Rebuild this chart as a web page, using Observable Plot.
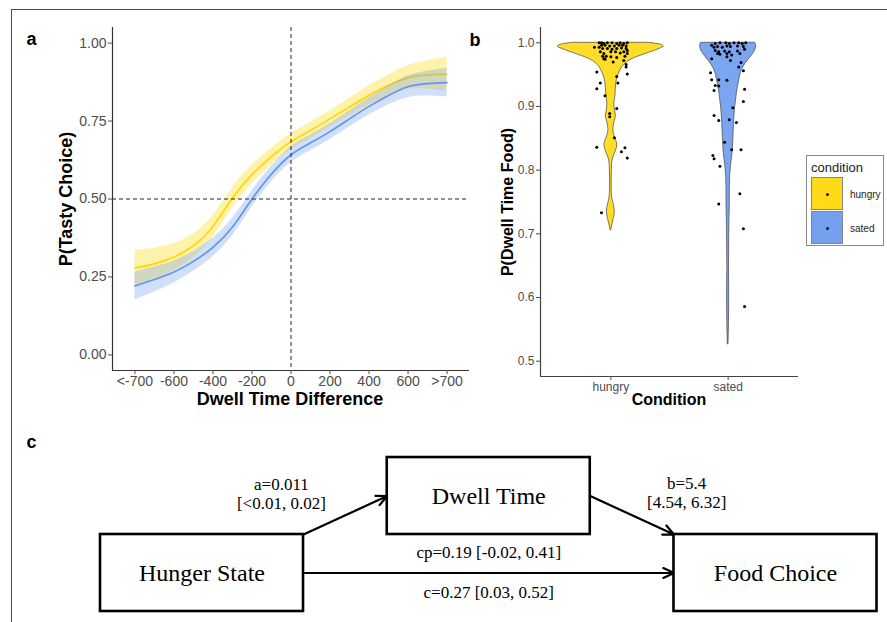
<!DOCTYPE html>
<html><head><meta charset="utf-8">
<script src="https://cdn.jsdelivr.net/npm/d3@7"></script>
<script src="https://cdn.jsdelivr.net/npm/@observablehq/plot@0.6"></script>
<style>
body{margin:0;background:#fff;}
#fig{position:relative;width:887px;height:622px;overflow:hidden;background:#fff;font-family:"Liberation Sans",Arial,sans-serif;}
.frame{position:absolute;left:11px;top:9px;width:900px;height:700px;border-top:1.5px solid #4a4a4a;border-left:1.5px solid #4a4a4a;}
.t{position:absolute;white-space:nowrap;line-height:1;transform:translate(-50%,-50%);font-weight:bold;color:#000;}
.panel{position:absolute;}
.legend{position:absolute;left:806px;top:155px;width:78px;height:91px;border:1px solid #8a8a8a;box-sizing:border-box;background:#fff;}
.legend .ttl{position:absolute;left:4px;top:4px;font-size:13px;color:#222;}
.legend .key{position:absolute;left:4px;width:32px;height:33px;box-sizing:border-box;border:1px solid #777;}
.legend .key i{position:absolute;left:14px;top:14.5px;width:3px;height:3px;border-radius:50%;background:#000;}
.legend .lab{position:absolute;left:43px;font-size:10px;color:#222;}
</style></head>
<body><div id="fig"><div class="frame"></div></div>
<script>
// ---------- DATA ----------
const conditions = ["hungry", "sated"];
const condColors = ["#FFD700", "#6495ED"];

// Panel a: smoothed P(tasty choice) by dwell-time difference
const dwell = [-800,-700,-600,-500,-400,-300,-200,-100,0,100,200,300,400,500,600,700,800];
const dwellTicks = [-800,-600,-400,-200,0,200,400,600,800];
const dwellTickLabels = ["<-700","-600","-400","-200","0","200","400","600",">700"];
const probTicks = [0, 0.25, 0.5, 0.75, 1];
const hungryMean = [0.279,0.292,0.314,0.350,0.412,0.503,0.578,0.636,0.684,0.720,0.757,0.795,0.833,0.865,0.889,0.898,0.900];
const hungryLo   = [0.222,0.242,0.271,0.312,0.377,0.470,0.548,0.609,0.659,0.695,0.731,0.767,0.803,0.832,0.851,0.853,0.845];
const hungryHi   = [0.336,0.342,0.357,0.388,0.447,0.536,0.608,0.663,0.709,0.745,0.783,0.823,0.863,0.898,0.927,0.943,0.955];
const satedMean  = [0.221,0.242,0.266,0.300,0.345,0.410,0.500,0.580,0.642,0.680,0.716,0.757,0.797,0.832,0.860,0.870,0.873];
const satedLo    = [0.176,0.202,0.231,0.268,0.315,0.382,0.474,0.555,0.617,0.655,0.691,0.731,0.769,0.802,0.825,0.830,0.827];
const satedHi    = [0.266,0.282,0.301,0.332,0.375,0.438,0.526,0.605,0.667,0.705,0.741,0.783,0.825,0.862,0.895,0.910,0.919];

// Panel b: violin half-widths (category units) along P(dwell time food)
const hungryViolinP = [0.706,0.715,0.725,0.735,0.745,0.755,0.770,0.790,0.810,0.820,0.830,0.840,0.850,0.863,0.875,0.885,0.895,0.905,0.915,0.930,0.945,0.955,0.965,0.975,0.983,0.990,0.994,0.997,1.000];
const hungryViolinW = [0.003,0.013,0.026,0.034,0.026,0.013,0.007,0.007,0.010,0.021,0.043,0.055,0.038,0.021,0.030,0.043,0.034,0.030,0.038,0.043,0.055,0.077,0.111,0.188,0.307,0.409,0.452,0.426,0.324];
const satedViolinP  = [0.527,0.560,0.590,0.610,0.650,0.690,0.721,0.745,0.773,0.805,0.826,0.852,0.878,0.899,0.920,0.941,0.957,0.968,0.978,0.988,0.995,1.000];
const satedViolinW  = [0.003,0.007,0.009,0.009,0.007,0.009,0.011,0.014,0.014,0.023,0.037,0.045,0.051,0.060,0.074,0.094,0.117,0.151,0.194,0.230,0.239,0.230];
const pTicks = [0.5,0.6,0.7,0.8,0.9,1.0];

// Panel b: per-participant points (jitter offset, P)
const hungryJitter = [-0.10,-0.08,-0.06,-0.03,0.01,0.05,0.08,0.11,0.14,-0.08,-0.05,-0.01,0.03,0.07,0.10,0.13,-0.14,-0.10,-0.07,-0.03,0.01,0.05,0.09,0.13,0.14,-0.09,-0.06,0.00,0.04,0.08,0.11,0.14,-0.07,-0.04,-0.06,0.00,0.05,0.12,-0.05,0.02,0.11,0.13,0.13,-0.12,-0.09,-0.12,-0.05,0.05,0.06,0.14,0.05,-0.01,-0.01,0.03,-0.12,0.12,0.09,0.14,-0.08];
const hungryP      = [1.000,1.000,0.999,1.000,1.000,0.999,1.000,0.999,1.000,0.996,0.996,0.995,0.995,0.996,0.996,0.995,0.993,0.993,0.991,0.991,0.990,0.991,0.992,0.991,0.988,0.986,0.983,0.986,0.986,0.984,0.986,0.983,0.979,0.979,0.975,0.978,0.977,0.979,0.974,0.970,0.972,0.966,0.962,0.954,0.937,0.928,0.917,0.947,0.937,0.951,0.897,0.889,0.884,0.851,0.836,0.835,0.829,0.819,0.733];
const satedJitter  = [-0.14,-0.11,-0.07,-0.02,0.01,0.05,0.09,0.12,0.15,-0.12,-0.09,-0.05,-0.01,0.02,0.08,0.13,-0.11,-0.08,-0.03,0.01,0.08,0.14,-0.09,-0.07,-0.01,0.03,0.10,-0.14,-0.01,0.02,0.11,0.09,0.13,-0.15,-0.08,-0.01,-0.14,-0.11,-0.08,-0.12,0.14,0.13,0.04,-0.12,-0.08,0.01,0.07,-0.03,0.03,0.11,-0.13,-0.12,-0.07,0.10,-0.08,0.13,0.14];
const satedP       = [0.996,0.999,1.000,1.000,0.999,1.000,1.000,0.999,1.000,0.993,0.994,0.993,0.995,0.994,0.995,0.994,0.988,0.986,0.987,0.986,0.987,0.990,0.983,0.982,0.983,0.981,0.983,0.975,0.978,0.972,0.969,0.962,0.956,0.953,0.942,0.941,0.942,0.933,0.932,0.925,0.927,0.908,0.898,0.886,0.878,0.879,0.875,0.844,0.832,0.832,0.823,0.818,0.806,0.763,0.747,0.708,0.586];

// Panel c: mediation model
const nodeNames = ["Hunger State", "Dwell Time", "Food Choice"];
const pathFrom  = ["Hunger State", "Dwell Time", "Hunger State"];
const pathTo    = ["Dwell Time", "Food Choice", "Food Choice"];
const pathCoef  = ["a=0.011", "b=5.4", "cp=0.19"];
const pathCI    = ["[<0.01, 0.02]", "[4.54, 6.32]", "[-0.02, 0.41]"];
const totalCoef = "c=0.27";
const totalCI   = "[0.03, 0.52]";

// ---------- HELPERS ----------
const fig = document.getElementById("fig");
function addPanel(svg, left, top) { const d = document.createElement("div"); d.className = "panel"; d.style.left = left + "px"; d.style.top = top + "px"; d.appendChild(svg); fig.appendChild(d); }
function addText(text, cx, cy, size, rotate) {
  const d = document.createElement("div"); d.className = "t"; d.textContent = text;
  d.style.left = cx + "px"; d.style.top = cy + "px"; d.style.fontSize = size + "px";
  if (rotate) d.style.transform = "translate(-50%,-50%) rotate(-90deg)";
  fig.appendChild(d);
}
const sans = "'Liberation Sans', Arial, Helvetica, sans-serif";

// ---------- PANEL A ----------
const rowsA = (means, los, his) => dwell.map((d, i) => ({dwell: d, mean: means[i], lo: los[i], hi: his[i]}));
const hungryRows = rowsA(hungryMean, hungryLo, hungryHi);
const satedRows = rowsA(satedMean, satedLo, satedHi);
const xDomA = [-915, 915], yDomA = [-0.05, 1.05];

const plotA = Plot.plot({
  width: 480, height: 410, marginLeft: 112, marginRight: 11, marginTop: 27, marginBottom: 40,
  style: {fontFamily: sans, fontSize: "14px", background: "transparent", overflow: "visible"},
  x: {domain: xDomA}, y: {domain: yDomA},
  marks: [
    Plot.areaY(hungryRows, {x: "dwell", y1: "lo", y2: "hi", fill: condColors[0], fillOpacity: 0.33, curve: "natural"}),
    Plot.line(hungryRows, {x: "dwell", y: "mean", stroke: condColors[0], strokeWidth: 1.7, curve: "natural"}),
    Plot.areaY(satedRows, {x: "dwell", y1: "lo", y2: "hi", fill: condColors[1], fillOpacity: 0.3, curve: "natural"}),
    Plot.line(satedRows, {x: "dwell", y: "mean", stroke: condColors[1], strokeWidth: 1.7, curve: "natural"}),
    Plot.ruleX([0], {stroke: "#222", strokeDasharray: "4,3", strokeWidth: 1}),
    Plot.ruleY([0.5], {stroke: "#222", strokeDasharray: "4,3", strokeWidth: 1}),
    Plot.ruleX([xDomA[0]], {stroke: "#333", strokeWidth: 1.2}),
    Plot.ruleY([yDomA[0]], {stroke: "#333", strokeWidth: 1.2}),
    Plot.axisX({ticks: dwellTicks, tickFormat: d => dwellTickLabels[dwellTicks.indexOf(d)], tickSize: 4, tickPadding: 2, label: null, color: "#4d4d4d"}),
    Plot.axisY({ticks: probTicks, tickFormat: d3.format(".2f"), tickSize: 4, tickPadding: 2, label: null, color: "#4d4d4d"})
  ]
});
addPanel(plotA, 0, 0);
addText("P(Tasty Choice)", 66, 198.5, 18, true);
addText("Dwell Time Difference", 290, 399, 18);

// ---------- PANEL B ----------
const violinRows = (ps, ws, k) => ps.map((p, i) => ({p, w: ws[i], cat: k + 1, cond: conditions[k]}));
const hv = violinRows(hungryViolinP, hungryViolinW, 0);
const sv = violinRows(satedViolinP, satedViolinW, 1);
const pts = [
  ...hungryP.map((p, i) => ({p, x: 1 + hungryJitter[i]})),
  ...satedP.map((p, i) => ({p, x: 2 + satedJitter[i]}))
];
const xDomB = [0.4, 2.6], yDomB = [0.476, 1.024];
const plotB = Plot.plot({
  width: 417, height: 410, marginLeft: 70, marginRight: 89, marginTop: 27, marginBottom: 34,
  style: {fontFamily: sans, fontSize: "12px", background: "transparent", overflow: "visible"},
  x: {domain: xDomB}, y: {domain: yDomB},
  marks: [
    Plot.areaX(hv, {y: "p", x1: d => d.cat - d.w, x2: d => d.cat + d.w, fill: condColors[0], fillOpacity: 0.85, stroke: "#444", strokeWidth: 0.7, curve: "monotone-y"}),
    Plot.areaX(sv, {y: "p", x1: d => d.cat - d.w, x2: d => d.cat + d.w, fill: condColors[1], fillOpacity: 0.85, stroke: "#444", strokeWidth: 0.7, curve: "monotone-y"}),
    Plot.dot(pts, {x: "x", y: "p", r: 1.5, fill: "#000", stroke: null}),
    Plot.ruleX([xDomB[0]], {stroke: "#444", strokeWidth: 1.2}),
    Plot.ruleY([yDomB[0]], {stroke: "#444", strokeWidth: 1.2}),
    Plot.axisX({ticks: [1, 2], tickFormat: d => conditions[d - 1], tickSize: 4, tickPadding: 2, label: null, color: "#4d4d4d"}),
    Plot.axisY({ticks: pTicks, tickFormat: d3.format(".1f"), tickSize: 4, tickPadding: 2, label: null, color: "#4d4d4d"})
  ]
});
addPanel(plotB, 470, 0);
addText("P(Dwell Time Food)", 508, 201.5, 16, true);
addText("Condition", 669, 400, 16);

// legend
const leg = document.createElement("div"); leg.className = "legend";
leg.innerHTML = `<div class="ttl">condition</div>` + conditions.map((c, i) =>
  `<div class="key" style="top:${21 + i * 34}px;background:${condColors[i]};opacity:0.9"><i></i></div><div class="lab" style="top:${33 + i * 34}px">${c}</div>`).join("");
fig.appendChild(leg);

// panel letters
addText("a", 31.5, 39.4, 18);
addText("b", 475, 40.3, 18);
addText("c", 31.5, 441.5, 18);

// ---------- PANEL C ----------
const layout = {"Hunger State": [0, 0], "Dwell Time": [1, 1], "Food Choice": [2, 0]};
const hw = 0.354, hh = 0.5;
const nodes = nodeNames.map(n => ({name: n, col: layout[n][0], row: layout[n][1]}));
function edgeEnds(from, to) {
  const [c1, r1] = layout[from], [c2, r2] = layout[to];
  if (r1 === r2) return {x1: c1 + hw, y1: r1, x2: c2 - hw, y2: r2};
  if (r2 > r1) return {x1: c1 + hw, y1: r1 + hh, x2: c2 - hw, y2: r2};
  return {x1: c1 + hw, y1: r1, x2: c2 - hw, y2: r2 + hh};
}
const edges = pathFrom.map((f, i) => {
  const e = edgeEnds(f, pathTo[i]);
  return {...e, mx: (e.x1 + e.x2) / 2, my: (e.y1 + e.y2) / 2, text: pathCoef[i] + (i < 2 ? "\n" : " ") + pathCI[i], total: totalCoef + " " + totalCI};
});
const serif = "'Liberation Serif', 'Times New Roman', serif";
const plotC = Plot.plot({
  width: 887, height: 202, marginLeft: 0, marginRight: 0, marginTop: 0, marginBottom: 0,
  style: {fontFamily: serif, background: "transparent", overflow: "visible"},
  x: {domain: [-0.7027, 2.3906], axis: null}, y: {domain: [-0.643, 1.981], axis: null},
  marks: [
    Plot.arrow(edges, {x1: "x1", y1: "y1", x2: "x2", y2: "y2", stroke: "#000", strokeWidth: 2.2, headLength: 8, headAngle: 50}),
    Plot.rect(nodes, {x1: d => d.col - hw, x2: d => d.col + hw, y1: d => d.row - hh, y2: d => d.row + hh, fill: "#fff", stroke: "#000", strokeWidth: 2.6}),
    Plot.text(nodes, {x: "col", y: "row", text: "name", fontSize: 24, fill: "#000"}),
    Plot.text(edges.slice(0, 1), {x: "mx", y: "my", text: "text", fontSize: 17, lineHeight: 1.12, dx: -64, dy: -22, fill: "#000"}),
    Plot.text(edges.slice(1, 2), {x: "mx", y: "my", text: "text", fontSize: 17, lineHeight: 1.12, dx: 54.5, dy: -23, fill: "#000"}),
    Plot.text(edges.slice(2, 3), {x: "mx", y: "my", text: "text", fontSize: 17, dy: -20.5, fill: "#000"}),
    Plot.text(edges.slice(2, 3), {x: "mx", y: "my", text: "total", fontSize: 17, dy: 19.5, fill: "#000"})
  ]
});
addPanel(plotC, 0, 420);
</script>
</body></html>
